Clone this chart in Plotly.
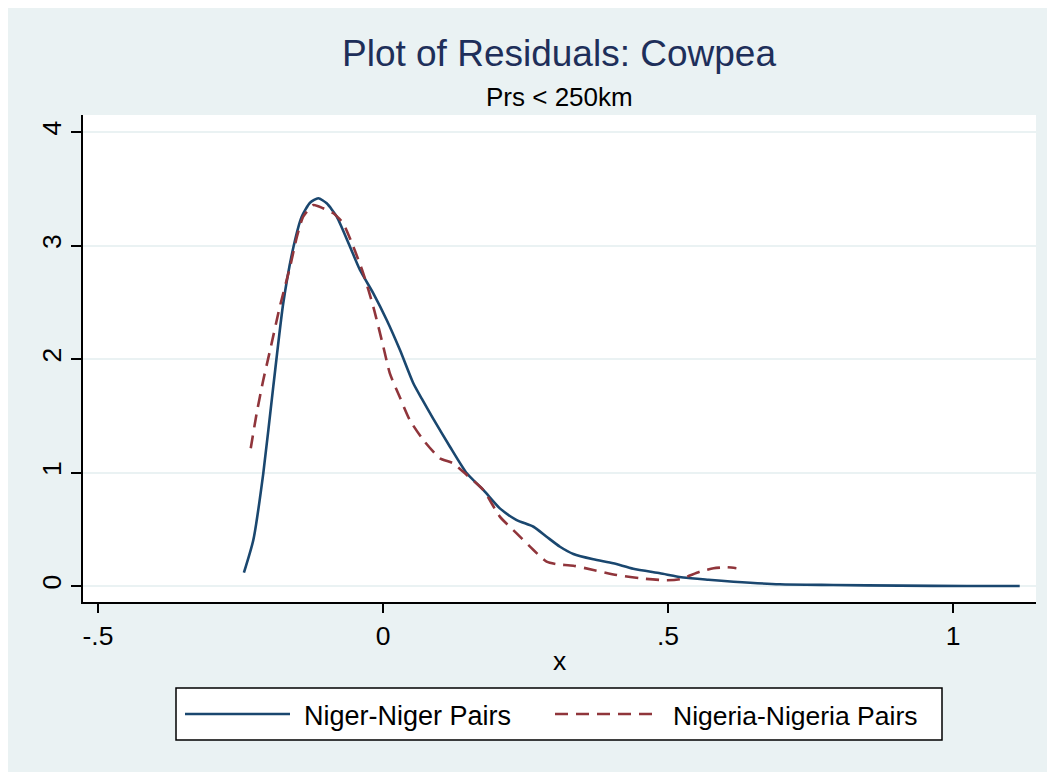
import plotly.graph_objects as go

# ---- data ----
niger_x = [-0.244, -0.2275, -0.210, -0.1925, -0.175, -0.157, -0.1426, -0.128, -0.1135,
           -0.0988, -0.0812, -0.0579, -0.0404, -0.017, 0.0065, 0.0298, 0.0532, 0.068,
           0.088, 0.1175, 0.147, 0.176, 0.205, 0.2345, 0.264, 0.287, 0.3105, 0.334,
           0.369, 0.404, 0.439, 0.486, 0.527, 0.571, 0.615, 0.696, 0.79, 0.907, 1.024, 1.117]
niger_y = [0.117, 0.405, 0.993, 1.756, 2.491, 2.989, 3.254, 3.377, 3.416,
           3.372, 3.254, 2.989, 2.784, 2.579, 2.344, 2.079, 1.786, 1.65,
           1.475, 1.227, 0.993, 0.846, 0.684, 0.581, 0.522, 0.434, 0.346, 0.282,
           0.235, 0.2, 0.152, 0.112, 0.075, 0.055, 0.038, 0.015, 0.009, 0.003, 0.0, 0.0]

nigeria_x = [-0.232, -0.2216, -0.21, -0.198, -0.181, -0.163, -0.151, -0.14, -0.122,
             -0.105, -0.087, -0.07, -0.052, -0.0346, -0.017, 0.0006, 0.012, 0.0298,
             0.047, 0.0708, 0.1, 0.123, 0.147, 0.176, 0.205, 0.2345, 0.264, 0.287,
             0.305, 0.334, 0.369, 0.41, 0.451, 0.498, 0.521, 0.556, 0.58, 0.603, 0.62]
nigeria_y = [1.213, 1.522, 1.815, 2.079, 2.461, 2.813, 3.078, 3.254, 3.357,
             3.328, 3.284, 3.196, 2.989, 2.755, 2.461, 2.108, 1.874, 1.66,
             1.463, 1.286, 1.125, 1.081, 0.978, 0.846, 0.611, 0.464, 0.317, 0.214,
             0.191, 0.179, 0.141, 0.097, 0.068, 0.05, 0.06, 0.126, 0.156, 0.165, 0.156]

series_names = ["Niger-Niger Pairs", "Nigeria-Nigeria Pairs"]
x_tickvals = [-0.5, 0, 0.5, 1]
x_ticktext = ["-.5", "0", ".5", "1"]
y_tickvals = [0, 1, 2, 3, 4]
y_ticktext = ["0", "1", "2", "3", "4"]
title_text = "Plot of Residuals: Cowpea"
subtitle_text = "Prs < 250km"
x_title = "x"

# ---- style ----
FONT = "Liberation Sans, Arial, Helvetica, sans-serif"
BG = "#EAF2F3"
NAVY = "#1A476F"
MAROON = "#90353B"
OFF = 8                      # page body margin offset
W, H = 1055 - OFF, 772 - OFF
L, R, T, B = 83 - OFF, 1036 - OFF, 115 - OFF, 602 - OFF  # plot area in figure pixels


def px(xp):  # reference-page pixel -> paper
    return (xp - OFF - L) / (R - L)


def py(yp):
    return (B - (yp - OFF)) / (B - T)


fig = go.Figure()
fig.add_trace(go.Scatter(x=niger_x, y=niger_y, mode="lines", name=series_names[0],
                         line=dict(color=NAVY, width=2.6, shape="spline", smoothing=0.6)))
fig.add_trace(go.Scatter(x=nigeria_x, y=nigeria_y, mode="lines", name=series_names[1],
                         line=dict(color=MAROON, width=2.6, dash="13px,8px",
                                   shape="spline", smoothing=0.6)))

fig.update_layout(
    width=W, height=H,
    margin=dict(l=L, r=W - R, t=T, b=H - B, pad=0),
    paper_bgcolor=BG, plot_bgcolor="white",
    showlegend=False,
    font=dict(family=FONT, size=26, color="black"),
)

fig.update_xaxes(
    range=[-0.5263, 1.1456], tickvals=x_tickvals, ticktext=x_ticktext,
    showgrid=False, zeroline=False, showline=True, linecolor="black", linewidth=1.5,
    ticks="outside", ticklen=9, tickwidth=1.5, tickcolor="black",
    tickfont=dict(family=FONT, size=26.5, color="black"),
)
fig.update_yaxes(
    range=[-0.141, 4.15], tickvals=y_tickvals, ticktext=y_ticktext, tickangle=-90,
    showgrid=True, gridcolor=BG, gridwidth=2, zeroline=False,
    showline=True, linecolor="black", linewidth=1.5,
    ticks="outside", ticklen=10, tickwidth=1.5, tickcolor="black",
    tickfont=dict(family=FONT, size=26.5, color="black"),
)

# titles
fig.add_annotation(text=title_text, xref="paper", yref="paper", x=px(559), y=py(53),
                   showarrow=False, xanchor="center", yanchor="middle",
                   font=dict(family=FONT, size=37, color="#1E2F5A"))
fig.add_annotation(text=subtitle_text, xref="paper", yref="paper", x=px(559), y=py(97),
                   showarrow=False, xanchor="center", yanchor="middle",
                   font=dict(family=FONT, size=26, color="black"))
fig.add_annotation(text=x_title, xref="paper", yref="paper", x=px(559), y=py(661),
                   showarrow=False, xanchor="center", yanchor="middle",
                   font=dict(family=FONT, size=26.5, color="black"))

# custom legend box
fig.add_shape(type="rect", xref="paper", yref="paper", x0=px(176), x1=px(942),
              y0=py(688), y1=py(740), line=dict(color="black", width=1.5), fillcolor="white")
fig.add_shape(type="line", xref="paper", yref="paper", x0=px(185), x1=px(290),
              y0=py(714), y1=py(714), line=dict(color=NAVY, width=2.6))
fig.add_shape(type="line", xref="paper", yref="paper", x0=px(555), x1=px(655),
              y0=py(714), y1=py(714), line=dict(color=MAROON, width=2.6, dash="13px,8px"))
fig.add_annotation(text=series_names[0], xref="paper", yref="paper", x=px(302), y=py(716),
                   showarrow=False, xanchor="left", yanchor="middle",
                   font=dict(family=FONT, size=27, color="black"))
fig.add_annotation(text=series_names[1], xref="paper", yref="paper", x=px(671), y=py(716),
                   showarrow=False, xanchor="left", yanchor="middle",
                   font=dict(family=FONT, size=26.5, color="black"))

fig.write_html("out.html")
